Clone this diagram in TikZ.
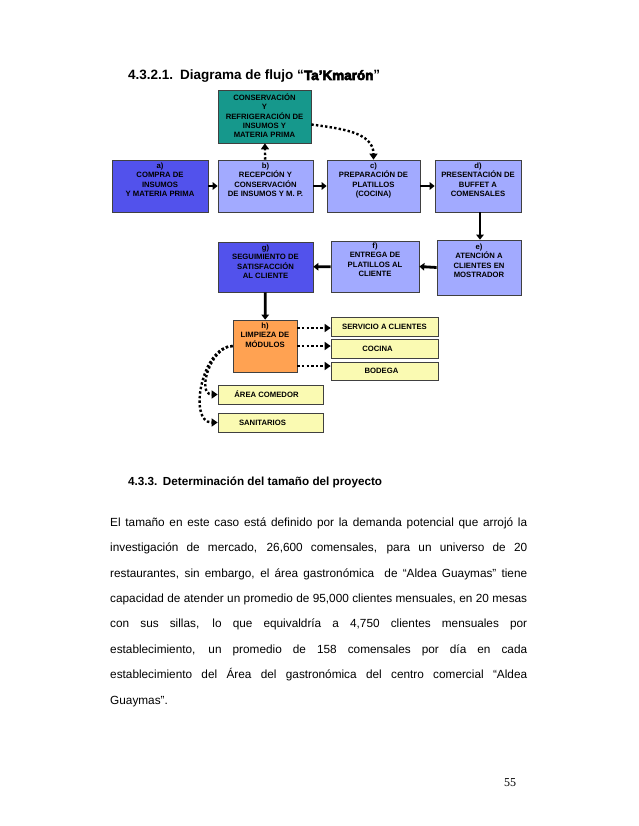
\documentclass[tikz,border=0pt]{standalone}
\usepackage{fontspec}
\setmainfont{Liberation Sans}
\newfontfamily\numfont{Liberation Serif}
\newfontfamily\blackfont{Liberation Sans}[BoldFeatures={FakeBold=4.5}]
\usetikzlibrary{arrows.meta,positioning}

\definecolor{verdeazul}{RGB}{22,152,140}
\definecolor{azulfuerte}{RGB}{82,82,236}
\definecolor{azulclaro}{RGB}{162,170,255}
\definecolor{naranja}{RGB}{255,162,82}
\definecolor{amarillo}{RGB}{250,250,178}

\newcommand{\cajafont}{\fontsize{7.7}{9.3}\selectfont\bfseries}

\begin{document}
\begin{tikzpicture}[x=1pt, y=-1pt,
		caja/.style={draw=black!75, line width=0.7pt, inner sep=0pt},
		txtcaja/.style={font=\cajafont, align=center, inner sep=0pt},
		flecha/.style={-{Triangle[length=5pt,width=7.5pt]}, line width=2.8pt},
		punteada/.style={-{Triangle[length=6pt,width=8pt]}, line width=2.4pt, dash pattern=on 2.4pt off 2.2pt}]
		
		% --- PÁGINA ---
		\fill[white] (0,0) rectangle (638,826);
		\useasboundingbox (0,0) rectangle (638,826);
		
		% --- TÍTULO ---
		\node[anchor=base west, inner sep=0pt, font=\fontsize{13.5}{16}\selectfont\bfseries] (numtitulo) at (128,80) {4.3.2.1.};
		\node[anchor=base west, inner sep=0pt, font=\fontsize{13.5}{16}\selectfont\bfseries] (titulo) at (180,80) {Diagrama de flujo “{\blackfont\bfseries Ta’Kmarón}”};
		
		% --- FILA SUPERIOR ---
		\node[caja, fill=verdeazul, minimum width=93pt, minimum height=53pt] (cons) at (264.5,116.5) {};
		\node[txtcaja, below=4pt of cons.north] (constxt) {CONSERVACIÓN\\Y\\REFRIGERACIÓN DE\\INSUMOS Y\\MATERIA PRIMA};
		
		\node[caja, fill=azulfuerte, minimum width=96pt, minimum height=52pt] (a) at (160,186) {};
		\node[txtcaja, below=3pt of a.north] (atxt) {a)\\COMPRA DE\\INSUMOS\\Y MATERIA PRIMA};
		
		\node[caja, fill=azulclaro, minimum width=95pt, minimum height=52pt] (b) at (265.5,186) {};
		\node[txtcaja, below=3pt of b.north] (btxt) {b)\\RECEPCIÓN Y\\CONSERVACIÓN\\DE INSUMOS Y M. P.};
		
		\node[caja, fill=azulclaro, minimum width=93pt, minimum height=52pt] (c) at (373.5,186) {};
		\node[txtcaja, below=3pt of c.north] (ctxt) {c)\\PREPARACIÓN DE\\PLATILLOS\\(COCINA)};
		
		\node[caja, fill=azulclaro, minimum width=86pt, minimum height=52pt] (d) at (478,186) {};
		\node[txtcaja, below=3pt of d.north] (dtxt) {d)\\PRESENTACIÓN DE\\BUFFET A\\COMENSALES};
		
		% --- FILA INTERMEDIA ---
		\node[caja, fill=azulclaro, minimum width=84pt, minimum height=55pt] (e) at (479,267.5) {};
		\node[txtcaja, below=4pt of e.north] (etxt) {e)\\ATENCIÓN A\\CLIENTES EN\\MOSTRADOR};
		
		\node[caja, fill=azulclaro, minimum width=88pt, minimum height=51pt] (f) at (375,266.5) {};
		\node[txtcaja, below=2pt of f.north] (ftxt) {f)\\ENTREGA DE\\PLATILLOS AL\\CLIENTE};
		
		\node[caja, fill=azulfuerte, minimum width=95pt, minimum height=50pt] (g) at (265.5,267) {};
		\node[txtcaja, below=3pt of g.north] (gtxt) {g)\\SEGUIMIENTO DE\\SATISFACCIÓN\\AL CLIENTE};
		
		% --- LIMPIEZA Y ÁREAS ---
		\node[caja, fill=naranja, minimum width=64pt, minimum height=52pt] (h) at (265,346) {};
		\node[txtcaja, below=3pt of h.north] (htxt) {h)\\LIMPIEZA DE\\MÓDULOS};
		
		\node[caja, fill=amarillo, minimum width=107pt, minimum height=19pt, font=\cajafont] (serv) at (384.5,326.5) {SERVICIO A CLIENTES};
		\node[caja, fill=amarillo, minimum width=107pt, minimum height=19pt, font=\cajafont] (coc) at (384.5,348.5) {\hspace{-14pt}COCINA};
		\node[caja, fill=amarillo, minimum width=107pt, minimum height=18pt, font=\cajafont] (bod) at (384.5,371) {\hspace{-6pt}BODEGA};
		\node[caja, fill=amarillo, minimum width=105pt, minimum height=19pt, font=\cajafont] (com) at (270.5,394.5) {\hspace{-8pt}ÁREA COMEDOR};
		\node[caja, fill=amarillo, minimum width=105pt, minimum height=19pt, font=\cajafont] (san) at (270.5,422.5) {\hspace{-16pt}SANITARIOS};
		
		% --- FLUJO PRINCIPAL ---
		\draw[flecha] (a) -- (b);
		\draw[flecha] (b) -- (c);
		\draw[flecha] (c) -- (d);
		\draw[flecha] ([xshift=2pt]d.south) -- ([xshift=2pt]d.south |- e.north);
		\draw[flecha] (e.west) -- (f.east);
		\draw[flecha] (f) -- (g);
		\draw[flecha] (g) -- (h);
		
		% --- CONSERVACIÓN (punteado) ---
		\draw[punteada] (b) -- (cons);
		\draw[punteada] ([yshift=-8pt]cons.east) to[out=-8, in=90] (c.north);
		
		% --- LIMPIEZA (punteado) ---
		\draw[punteada] ([yshift=18pt]h.east) -- ([yshift=18pt]h.east -| serv.west);
		\draw[punteada] (h.east) -- (h.east -| coc.west);
		\draw[punteada] ([yshift=-20pt]h.east) -- ([yshift=-20pt]h.east -| bod.west);
		\draw[punteada] (h.west) to[out=180, in=180, looseness=1.1] (com.west);
		\draw[punteada] (h.west) to[out=180, in=180, looseness=1] (san.west);
		
		% --- TEXTO ---
		\node[anchor=base west, inner sep=0pt, font=\fontsize{11.7}{14}\selectfont\bfseries] (subtitulo) at (128,485) {4.3.3.\hspace{5.5pt}Determinación del tamaño del proyecto};
		
		\node[anchor=north west, inner sep=0pt, text width=417pt, align=justify,
		font=\fontsize{11.8}{25.4}\selectfont] (parrafo) at (110,517.5)
		{\tolerance=10000\relax\hyphenpenalty=10000\relax
			El tamaño en este caso está definido por la demanda potencial que arrojó la\linebreak
			investigación de mercado, 26,600 comensales, para un universo de 20\linebreak
			restaurantes, sin embargo, el área gastronómica\ \ de “Aldea Guaymas” tiene\linebreak
			capacidad de atender un promedio de 95,000 clientes mensuales, en 20 mesas\linebreak
			con sus sillas, lo que equivaldría a 4,750 clientes mensuales por\linebreak
			establecimiento, un promedio de 158 comensales por día en cada\linebreak
			establecimiento del Área del gastronómica del centro comercial “Aldea\linebreak
			Guaymas”.};
		
		\node[anchor=base, inner sep=0pt, font=\numfont\fontsize{12}{14}\selectfont] (pagina) at (510,786) {55};
		
	\end{tikzpicture}
\end{document}
